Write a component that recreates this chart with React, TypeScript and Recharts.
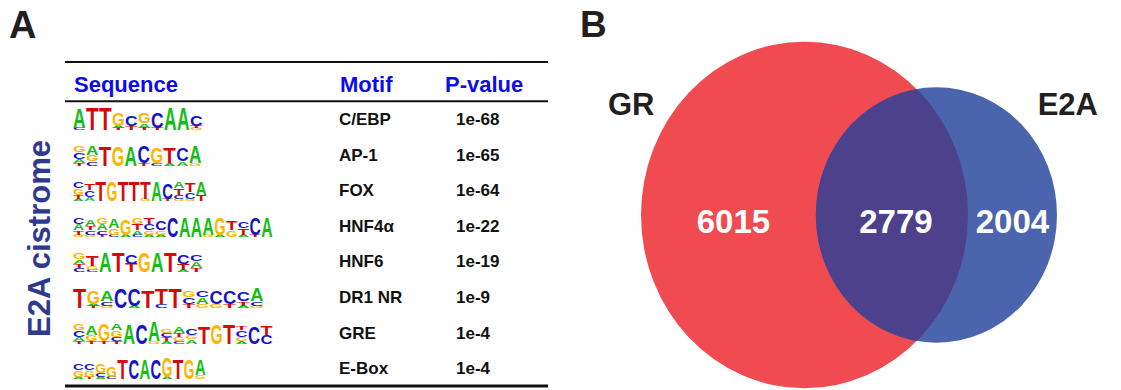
import React from 'react'
import { ScatterChart, Scatter, XAxis, YAxis, ZAxis, ReferenceLine } from 'recharts'

const FONT = "'Liberation Sans', Arial, Helvetica, sans-serif"

// ---- panel A: motifs found in the E2A cistrome ----
const headers = ['Sequence', 'Motif', 'P-value']
const motifNames = ['C/EBP', 'AP-1', 'FOX', 'HNF4α', 'HNF6', 'DR1 NR', 'GRE', 'E-Box']
const pValues = ['1e-68', '1e-65', '1e-64', '1e-22', '1e-19', '1e-9', '1e-4', '1e-4']
// one column per position, letters listed top -> bottom with their height (10 = full)
const motifLogos = [
  'A9C1 T10 T10 G6A1T1 C5T2 G5A2T1 C7T1 A10 A10 C5T1G1',
  'G3C3A2T1 A4G3C2 T9 G9 A9 C8T1 G7C1 T7A1 C6A2 A8G1',
  'C3G3T2A1 T3C3A2 T9 G9 T9 T9 T8G1 A9 C7T1 A3T3C2G1 T4C3G1 A6T3',
  'C3A3T2G1 A3T2C2G1 G3A3C2T1 A4G3C1 G7A1 G3T3A2C1 T3C3G2A1 C4G2A1 C9 A9 A9 A8G1 G8A1 T4G3 C3T3A1 C8T1 A9',
  'G3A2T2C2 T5G2C1 A9 T9 C4T4 G9 A9 T9 C4T3A1 C3A3T2',
  'T9 G6A1T1 A5C2G1 C9 C8A1 T8 T7C2 T9 G3C3T2 C3A3G2 C6G2 C6T2 C4T2A1 A6C2G1',
  'G3C3A2T1 A4G3T1 G8T1 A3G3C2T1 A9 C9 A9G1 G2C2T2A1 A3T2G2C1 C3G2A2 T8 G9 T9 T2C3G2A1 C8 T4C4',
  'C3G3A1 C3G3T1 G4C2A1 G5C1 T9 C9 A9 C9 G9A1 T9 G9 A7G2',
]

// ---- panel B: overlap of GR and E2A peaks ----
const setNames = ['GR', 'E2A']
const uniqueCounts = [6015, 2004]
const sharedCount = 2779

// styles / layout
const letterColors: Record<string, string> = { A: '#14BE14', C: '#1414C6', G: '#FFB400', T: '#D20A0A' }
const logoWidths = [130, 129, 134, 200, 130, 191, 200, 133]
const LETTER_UNIT = 2.2
const CAP = 7.2 // cap height of a 10px letter
const Z_MAX = 10000
const AREA_MAX = 95500
const Y_STRETCH = 1.06
const labelNudge = [5, 4, 0]
const vennColors = { GR: '#EF4B51', E2A: '#4A64AE', both: '#4C418A' }

function Logo({ x, bottom, width, code }: { x: number; bottom: number; width: number; code: string }) {
  const cols = code.split(' ')
  const cw = width / cols.length
  return (
    <g>
      {cols.map((col, i) => {
        const parts = [...col.matchAll(/([ACGT])(\d+)/g)].map((m) => ({ l: m[1], h: Number(m[2]) * LETTER_UNIT }))
        let y = bottom
        const els: React.ReactNode[] = []
        for (let k = parts.length - 1; k >= 0; k--) {
          const p = parts[k]
          els.push(
            <text
              key={k}
              transform={`translate(${x + i * cw},${y}) scale(1,${p.h / CAP})`}
              fontSize={10}
              fontWeight="bold"
              fontFamily={FONT}
              fill={letterColors[p.l]}
              textLength={cw - 0.4}
              lengthAdjust="spacingAndGlyphs"
            >
              {p.l}
            </text>
          )
          y -= p.h
        }
        return <g key={i}>{els}</g>
      })}
    </g>
  )
}

const rowData = motifNames.map((m, i) => ({ x: 0, row: i, motif: m, p: pValues[i], logo: motifLogos[i] }))
const headerData = [{ x: 0, row: -1 }]

const HeaderShape = (props: any) => {
  const { cx, cy } = props
  const xs = [cx + 9, cx + 275, cx + 380]
  return (
    <g>
      {headers.map((h, i) => (
        <text key={h} x={xs[i]} y={cy + 8.5} fontSize={22} fontWeight="bold" fontFamily={FONT} fill="#0C0CEA">
          {h}
        </text>
      ))}
    </g>
  )
}

const RowShape = (props: any) => {
  const { cx, cy, payload } = props
  return (
    <g>
      <Logo x={cx + 8} bottom={cy + 11} width={logoWidths[payload.row]} code={payload.logo} />
      <text x={cx + 274} y={cy + 6} fontSize={17} fontWeight="bold" fontFamily={FONT} fill="#111">
        {payload.motif}
      </text>
      <text x={cx + 391} y={cy + 6} fontSize={17} fontWeight="bold" fontFamily={FONT} fill="#111">
        {payload.p}
      </text>
    </g>
  )
}

// venn geometry: radii from the z scale, centre distance so that the lens area matches the shared count
const areaOf = (total: number) => (total / Z_MAX) * AREA_MAX
const totals = [uniqueCounts[0] + sharedCount, uniqueCounts[1] + sharedCount]
const radii = totals.map((t) => Math.sqrt(areaOf(t) / Math.PI))

function lensArea(r1: number, r2: number, d: number) {
  if (d >= r1 + r2) return 0
  if (d <= Math.abs(r1 - r2)) return Math.PI * Math.min(r1, r2) ** 2
  const a = r1 * r1 * Math.acos((d * d + r1 * r1 - r2 * r2) / (2 * d * r1))
  const b = r2 * r2 * Math.acos((d * d + r2 * r2 - r1 * r1) / (2 * d * r2))
  const c = 0.5 * Math.sqrt((-d + r1 + r2) * (d + r1 - r2) * (d - r1 + r2) * (d + r1 + r2))
  return a + b - c
}

function centreDistance() {
  const [r1, r2] = radii
  const target = (sharedCount / totals[1]) * Math.PI * r2 * r2
  let lo = Math.abs(r1 - r2)
  let hi = r1 + r2
  for (let i = 0; i < 60; i++) {
    const mid = (lo + hi) / 2
    if (lensArea(r1, r2, mid) > target) lo = mid
    else hi = mid
  }
  return (lo + hi) / 2
}

const dist = centreDistance()
const vennData = setNames.map((name, i) => ({ name, x: i === 0 ? 0 : dist, y: 0, total: totals[i] }))
const grLeft = -radii[0]
const grRight = radii[0]
const e2aLeft = dist - radii[1]
const e2aRight = dist + radii[1]
const countLabels = [
  { x: (grLeft + e2aLeft) / 2 + labelNudge[0], y: 0, text: String(uniqueCounts[0]) },
  { x: (e2aLeft + grRight) / 2 + labelNudge[1], y: 0, text: String(sharedCount) },
  { x: (grRight + e2aRight) / 2 + labelNudge[2], y: 0, text: String(uniqueCounts[1]) },
]

const VennShape = (props: any) => {
  const { cx, cy, width, size, payload } = props
  const rx = width ? width / 2 : Math.sqrt(size / Math.PI)
  const ry = rx * Y_STRETCH
  if (payload.name === 'GR') {
    return (
      <g>
        <defs>
          <clipPath id="gr-clip">
            <ellipse cx={cx} cy={cy} rx={rx} ry={ry} />
          </clipPath>
        </defs>
        <ellipse cx={cx} cy={cy} rx={rx} ry={ry} fill={vennColors.GR} />
        <text x={cx - rx * 1.06} y={cy - 100} textAnchor="middle" fontSize={31} fontWeight="bold" fontFamily={FONT} fill="#231F20">
          {payload.name}
        </text>
      </g>
    )
  }
  return (
    <g>
      <ellipse cx={cx} cy={cy} rx={rx} ry={ry} fill={vennColors.E2A} />
      <ellipse cx={cx} cy={cy} rx={rx} ry={ry} fill={vennColors.both} clipPath="url(#gr-clip)" />
      <text x={cx + rx * 1.09} y={cy - 100} textAnchor="middle" fontSize={31} fontWeight="bold" fontFamily={FONT} fill="#231F20">
        {payload.name}
      </text>
    </g>
  )
}

const CountShape = (props: any) => {
  const { cx, cy, payload } = props
  return (
    <text x={cx} y={cy + 18} textAnchor="middle" fontSize={33} fontWeight="bold" fontFamily={FONT} fill="#fff">
      {payload.text}
    </text>
  )
}

export default function App() {
  return (
    <div style={{ position: 'absolute', left: 0, top: 0, width: 1121, height: 390, background: '#fff', fontFamily: FONT }}>
      <div style={{ position: 'absolute', left: 0, top: 0 }}>
        <ScatterChart width={560} height={390} margin={{ top: 62, right: 12, bottom: 4, left: 65 }}>
          <XAxis type="number" dataKey="x" domain={[0, 483]} hide allowDataOverflow />
          <YAxis type="number" dataKey="row" domain={[-1.6, 7.5]} reversed hide allowDataOverflow />
          <ReferenceLine y={-1.6} stroke="#111" strokeWidth={2} ifOverflow="visible" />
          <ReferenceLine y={-0.5} stroke="#111" strokeWidth={2} ifOverflow="visible" />
          <ReferenceLine y={7.5} stroke="#111" strokeWidth={3} ifOverflow="visible" />
          <Scatter data={headerData} shape={HeaderShape} isAnimationActive={false} />
          <Scatter data={rowData} shape={RowShape} isAnimationActive={false} />
        </ScatterChart>
      </div>
      <div style={{ position: 'absolute', left: 580, top: 0 }}>
        <ScatterChart width={541} height={390} margin={{ top: 0, right: 0, bottom: 0, left: 0 }}>
          <XAxis type="number" dataKey="x" domain={[-224.5, 316.5]} hide allowDataOverflow />
          <YAxis type="number" dataKey="y" domain={[-215, 175]} reversed hide allowDataOverflow />
          <ZAxis zAxisId="area" type="number" dataKey="total" domain={[0, Z_MAX]} range={[0, AREA_MAX]} />
          <Scatter data={vennData} zAxisId="area" shape={VennShape} isAnimationActive={false} />
          <Scatter data={countLabels} shape={CountShape} isAnimationActive={false} />
        </ScatterChart>
      </div>
      <svg width={1121} height={390} style={{ position: 'absolute', left: 0, top: 0, pointerEvents: 'none' }}>
        <text x={9} y={38} fontSize={38} fontWeight="bold" fontFamily={FONT} fill="#231F20">A</text>
        <text x={580} y={37} fontSize={37} fontWeight="bold" fontFamily={FONT} fill="#231F20">B</text>
        <text
          transform="translate(50,238.5) rotate(-90)"
          textAnchor="middle"
          fontSize={31}
          fontWeight="bold"
          fontFamily={FONT}
          fill="#2E3A8F"
        >
          E2A cistrome
        </text>
      </svg>
    </div>
  )
}
